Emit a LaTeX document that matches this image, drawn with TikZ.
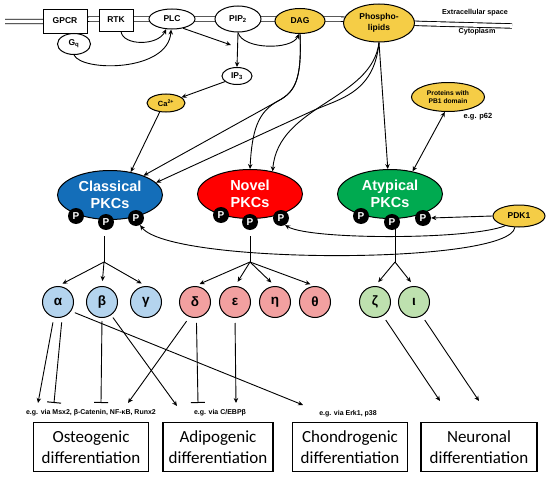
\documentclass[tikz,border=0pt]{standalone}
\usepackage{fontspec}
\setmainfont{Liberation Sans}
\newfontfamily\calib{Carlito}
\usetikzlibrary{shapes.geometric,arrows.meta}
\definecolor{myyellow}{RGB}{245,205,70}
\definecolor{cblue}{RGB}{20,110,185}
\definecolor{nred}{RGB}{255,0,0}
\definecolor{agreen}{RGB}{0,170,80}
\definecolor{lblue}{RGB}{180,212,238}
\definecolor{lred}{RGB}{242,160,160}
\definecolor{lgreen}{RGB}{190,225,175}
\tikzset{
  lbl/.style={font=\bfseries\fontsize{8.5}{11}\selectfont},
  wbox/.style={draw, line width=1pt, fill=white, inner sep=0pt, lbl},
  ell/.style={ellipse, draw, line width=1pt, inner sep=0pt, lbl, align=center},
  pkc/.style={ellipse, draw, line width=1pt, inner sep=0pt, minimum width=105pt, minimum height=49pt,
     text=white, align=center, font=\bfseries\fontsize{14.5}{16.5}\selectfont},
  pcirc/.style={circle, fill=black, minimum size=16pt, inner sep=0pt, text=white,
     font=\bfseries\fontsize{10}{10}\selectfont},
  iso/.style={circle, draw, line width=1pt, minimum size=31pt, inner sep=0pt,
     font=\bfseries\fontsize{13.5}{13.5}\selectfont},
  diffbox/.style={draw, line width=1.2pt, minimum width=114pt, minimum height=49pt, align=center,
     inner sep=0pt, font=\calib\fontsize{17}{21.5}\selectfont},
  note/.style={font=\bfseries\fontsize{7}{8}\selectfont, inner sep=0pt},
  arr/.style={line width=0.9pt, -{Stealth[length=5pt,width=4.5pt]}},
  dblarr/.style={line width=0.9pt, {Stealth[length=5pt,width=4.5pt]}-{Stealth[length=5pt,width=4.5pt]}},
  inh/.style={line width=0.9pt, -{Bar[width=14pt,line width=1pt]}},
  ln/.style={line width=0.9pt}
}
\begin{document}
\begin{tikzpicture}[x=1pt,y=-1pt]
\useasboundingbox (0,0) rectangle (550,479);
% membrane
\draw[line width=0.9pt, double distance=3.6pt] (5,21.5) -- (45,21.5) -- (90,19) -- (340,19) -- (420,23.5) -- (512,26);
\node[note, font=\bfseries\fontsize{7.2}{8}\selectfont] (ext) at (475,13) {Extracellular space};
\node[note, font=\bfseries\fontsize{7.2}{8}\selectfont] (cyto) at (477,32) {Cytoplasm};
% membrane nodes
\node[wbox, minimum width=44pt, minimum height=24pt] (gpcr) at (65,21) {GPCR};
\node[ell, fill=white, minimum width=33pt, minimum height=21pt] (gq) at (74,44) {G\textsubscript{q}};
\node[wbox, minimum width=34pt, minimum height=22pt] (rtk) at (116,20) {RTK};
\node[ell, fill=white, minimum width=46pt, minimum height=20pt] (plc) at (172,19) {PLC};
\node[ell, fill=white, minimum width=46pt, minimum height=26pt] (pip) at (238,19) {PIP\textsubscript{2}};
\node[ell, fill=myyellow, minimum width=50pt, minimum height=25pt] (dag) at (300,21) {DAG};
\node[ell, fill=myyellow, minimum width=71pt, minimum height=38pt] (pl) at (379,23) {Phospho-\\lipids};
% second messengers
\node[ell, fill=white, minimum width=30pt, minimum height=17pt] (ip3) at (237,76) {IP\textsubscript{3}};
\node[ell, fill=myyellow, minimum width=38pt, minimum height=18pt, font=\bfseries\fontsize{7.5}{8}\selectfont] (ca) at (166,103) {Ca\textsuperscript{2+}};
\node[ell, fill=myyellow, minimum width=73pt, minimum height=29pt, font=\bfseries\fontsize{6.7}{8.5}\selectfont] (pb1) at (448,97) {Proteins with\\PB1 domain};
\node[note, font=\bfseries\fontsize{7.5}{8}\selectfont] (p62) at (478,117) {e.g. p62};
\coordinate (cleave) at (231,45);
% PKCs
\node[pkc, fill=cblue] (clas) at (110,195) {Classical\\PKCs};
\node[pkc, fill=nred] (nov) at (250,194) {Novel\\PKCs};
\node[pkc, fill=agreen] (atyp) at (390,194) {Atypical\\PKCs};
\node[pcirc] (cp1) at (76,216) {P};
\node[pcirc] (cp2) at (106,222) {P};
\node[pcirc] (cp3) at (136,218) {P};
\node[pcirc] (np1) at (221,215) {P};
\node[pcirc] (np2) at (250,222) {P};
\node[pcirc] (np3) at (281,218) {P};
\node[pcirc] (ap1) at (361,216) {P};
\node[pcirc] (ap2) at (392,222) {P};
\node[pcirc] (ap3) at (423,218) {P};
\node[ell, fill=myyellow, minimum width=52pt, minimum height=22pt] (pdk) at (519,216) {PDK1};
% isoforms
\node[iso, fill=lblue] (alpha) at (58,302) {α};
\node[iso, fill=lblue] (beta) at (102,302) {β};
\node[iso, fill=lblue] (gamma) at (146,302) {γ};
\node[iso, fill=lred] (delta) at (195,302) {δ};
\node[iso, fill=lred] (eps) at (235,302) {ε};
\node[iso, fill=lred] (eta) at (275,302) {η};
\node[iso, fill=lred] (theta) at (315,302) {θ};
\node[iso, fill=lgreen] (zeta) at (375,302) {ζ};
\node[iso, fill=lgreen] (iota) at (414,302) {ι};
% notes and boxes
\node[note] (t1) at (91,413) {e.g. via Msx2, β-Catenin, NF-κB, Runx2};
\node[note] (t2) at (220,413) {e.g. via C/EBPβ};
\node[note] (t3) at (348,414) {e.g. via Erk1, p38};
\node[diffbox, minimum width=115pt] (osteo) at (91,447) {Osteogenic\\differentiation};
\node[diffbox, minimum width=110pt] (adipo) at (218,447) {Adipogenic\\differentiation};
\node[diffbox, minimum width=115pt] (chondro) at (350,447) {Chondrogenic\\differentiation};
\node[diffbox, minimum width=116pt] (neuro) at (479,447) {Neuronal\\differentiation};
% coordinates
\coordinate (cS) at (104,236); \coordinate (cJ) at (104,262);
\coordinate (nS) at (250,236); \coordinate (nJ) at (250,262);
\coordinate (aS) at (395,228); \coordinate (aJ) at (395,262);
\coordinate (e1) at (38,403); \coordinate (e2) at (54,403);
\coordinate (e3) at (101,403); \coordinate (e4) at (177,406);
\coordinate (e5) at (128,403); \coordinate (e6) at (198,403);
\coordinate (e7) at (236,403); \coordinate (e8) at (303,405);
\coordinate (e9) at (440,401); \coordinate (e10) at (479,401);
% top connectors
\draw[arr] ([xshift=5]rtk.south) .. controls (123,46) and (158,46) .. (plc.240);
\draw[arr] (gq.south) .. controls (82,72) and (168,72) .. (plc.265);
\draw[arr] (plc.-40) -- (cleave);
\draw[arr] (pip.south) -- (ip3.north);
\draw[arr] (pip.south) .. controls (243,50) and (292,50) .. (dag.265);
\draw[arr] (ip3.205) -- (ca.20);
\draw[arr] (ca.235) -- (clas.48);
\draw[arr] (dag.south) .. controls (302,80) and (295,92) .. (278,101) -- (clas.30);
\draw[arr] (dag.south) .. controls (302,80) and (295,92) .. (278,101) .. controls (258,112) and (252,130) .. (nov.north);
\draw[arr] (pl.south) .. controls (374,95) and (337,99) .. (310,112) -- (clas.15);
\draw[arr] (pl.south) .. controls (372,100) and (278,105) .. (nov.45);
\draw[arr] (pl.south) -- (atyp.95);
\draw[dblarr] (atyp.45) -- (pb1.258);
\draw[arr] (pdk.west) -- (ap3.east);
\draw[arr] (pdk.215) .. controls (470,240) and (310,240) .. (np3.-60);
\draw[arr] (pdk.250) .. controls (510,265) and (170,265) .. (cp3.-60);
% trees
\draw[ln] (cS) -- (cJ);
\draw[arr, shorten >=5pt] (cJ) -- (alpha.north);
\draw[arr, shorten >=5pt] (cJ) -- (beta.north);
\draw[arr, shorten >=5pt] (cJ) -- (gamma.north);
\draw[ln] (nS) -- (nJ);
\draw[arr, shorten >=5pt] (nJ) -- (delta.north);
\draw[arr, shorten >=5pt] (nJ) -- (eps.north);
\draw[arr, shorten >=5pt] (nJ) -- (eta.north);
\draw[arr, shorten >=5pt] (nJ) -- (theta.north);
\draw[ln] (aS) -- (aJ);
\draw[arr, shorten >=5pt] (aJ) -- (zeta.north);
\draw[arr, shorten >=5pt] (aJ) -- (iota.north);
% effects
\draw[arr, shorten <=5pt] (alpha.255) -- (e1);
\draw[inh, shorten <=5pt] (alpha.285) -- (e2);
\draw[arr, shorten <=4pt] (alpha.-35) -- (e8);
\draw[inh, shorten <=3pt] (beta.south) -- (e3);
\draw[arr, shorten <=3pt] (beta.-55) -- (e4);
\draw[arr, shorten <=5pt] (delta.250) -- (e5);
\draw[inh, shorten <=5pt] (delta.275) -- (e6);
\draw[arr, shorten <=5pt] (eps.south) -- (e7);
\draw[arr, shorten <=5pt] (zeta.-60) -- (e9);
\draw[arr, shorten <=5pt] (iota.-60) -- (e10);
\end{tikzpicture}
\end{document}
